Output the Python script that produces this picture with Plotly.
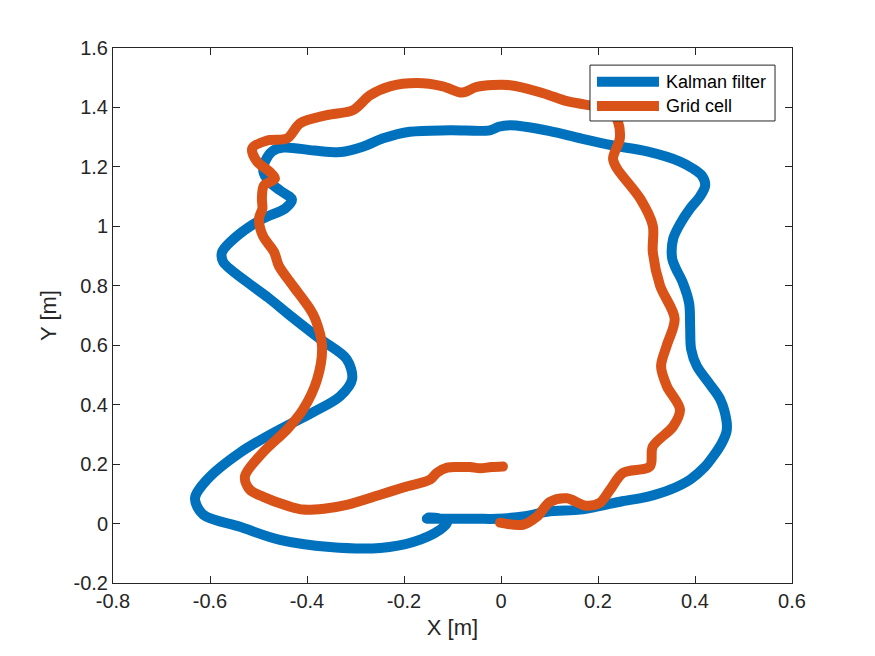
import plotly.graph_objects as go

# Kalman filter trajectory (x, y in metres)
kalman_x = [-0.153, -0.10, -0.05, -0.008, 0.05, 0.095, 0.163, 0.198, 0.25, 0.301, 0.35, 0.39,
            0.42, 0.437, 0.455, 0.465, 0.465, 0.452, 0.43, 0.404, 0.392, 0.390, 0.388,
            0.375, 0.36, 0.353, 0.355, 0.37, 0.39, 0.41, 0.421, 0.414, 0.395, 0.369, 0.301,
            0.231, 0.166, 0.101, 0.05, 0.019, -0.005, -0.023, -0.105, -0.188, -0.243, -0.285,
            -0.33, -0.385, -0.449, -0.472, -0.486, -0.490, -0.478, -0.455, -0.431, -0.445,
            -0.491, -0.544, -0.575, -0.573, -0.524, -0.48, -0.435, -0.373, -0.318, -0.307,
            -0.332, -0.388, -0.456, -0.538, -0.606, -0.631, -0.614, -0.538, -0.456, -0.353,
            -0.249, -0.181, -0.126, -0.111, -0.13, -0.15]
kalman_y = [0.016, 0.016, 0.016, 0.016, 0.025, 0.04, 0.047, 0.057, 0.075, 0.09, 0.115, 0.148,
            0.19, 0.225, 0.27, 0.31, 0.345, 0.418, 0.47, 0.529, 0.587, 0.66, 0.74,
            0.81, 0.86, 0.891, 0.958, 1.01, 1.06, 1.10, 1.137, 1.171, 1.195, 1.218, 1.252,
            1.272, 1.295, 1.32, 1.335, 1.340, 1.335, 1.323, 1.323, 1.318, 1.296, 1.268,
            1.250, 1.255, 1.265, 1.252, 1.22, 1.185, 1.15, 1.12, 1.090, 1.060,
            1.026, 0.968, 0.914, 0.881, 0.813, 0.76, 0.70, 0.621, 0.553, 0.486,
            0.428, 0.374, 0.317, 0.239, 0.148, 0.085, 0.03, -0.011, -0.055, -0.079,
            -0.082, -0.062, -0.021, 0.003, 0.018, 0.02]

# Grid cell trajectory (x, y in metres)
grid_x = [0.004, -0.02, -0.043, -0.064, -0.09, -0.111, -0.132, -0.146, -0.2, -0.249, -0.318,
          -0.365, -0.408, -0.435, -0.49, -0.518, -0.528, -0.491, -0.441, -0.408, -0.379,
          -0.369, -0.383, -0.394, -0.429, -0.458, -0.468, -0.491, -0.499, -0.492, -0.493,
          -0.489, -0.466, -0.478, -0.503, -0.513, -0.482, -0.441, -0.414, -0.359, -0.305,
          -0.270, -0.229, -0.173, -0.120, -0.080, -0.05, 0.019, 0.087, 0.136, 0.184, 0.225,
          0.241, 0.245, 0.231, 0.239, 0.287, 0.313, 0.313, 0.328, 0.358,
          0.342, 0.330, 0.342, 0.369, 0.355, 0.313, 0.307, 0.252, 0.225, 0.204, 0.175, 0.136,
          0.101, 0.074, 0.045, -0.002]
grid_y = [0.192, 0.19, 0.186, 0.190, 0.19, 0.188, 0.171, 0.148, 0.122, 0.097, 0.063,
          0.05, 0.047, 0.057, 0.09, 0.114, 0.158, 0.239, 0.317, 0.384, 0.486,
          0.597, 0.688, 0.722, 0.80, 0.867, 0.914, 0.968, 1.026, 1.06, 1.093,
          1.137, 1.161, 1.185, 1.218, 1.262, 1.289, 1.296, 1.347, 1.374, 1.391,
          1.441, 1.471, 1.482, 1.471, 1.450, 1.469, 1.475, 1.448, 1.421, 1.407, 1.397,
          1.353, 1.296, 1.228, 1.195, 1.093, 1.002, 0.914, 0.80, 0.690,
          0.60, 0.529, 0.462, 0.384, 0.327, 0.259, 0.192, 0.171, 0.114, 0.070, 0.060, 0.085,
          0.073, 0.023, -0.004, 0.003]

x_ticks = [-0.8, -0.6, -0.4, -0.2, 0, 0.2, 0.4, 0.6]
y_ticks = [-0.2, 0, 0.2, 0.4, 0.6, 0.8, 1, 1.2, 1.4, 1.6]
series_names = ["Kalman filter", "Grid cell"]

BLUE = "#0072BD"
ORANGE = "#D95319"
AX = "#262626"
FONT = "Liberation Sans, Arial, sans-serif"

fig = go.Figure()
fig.add_trace(go.Scatter(x=kalman_x, y=kalman_y, mode="lines", name=series_names[0],
                         showlegend=False,
                         line=dict(color=BLUE, width=10, shape="spline", smoothing=0.9)))
fig.add_trace(go.Scatter(x=grid_x, y=grid_y, mode="lines", name=series_names[1],
                         showlegend=False,
                         line=dict(color=ORANGE, width=10, shape="spline", smoothing=0.9)))

axis_common = dict(showgrid=False, zeroline=False, showline=True, linecolor=AX, linewidth=1,
                   mirror="allticks", ticks="inside", ticklen=7, tickcolor=AX,
                   tickfont=dict(family=FONT, size=20, color=AX))

fig.update_xaxes(range=[-0.8, 0.6], tickvals=x_ticks,
                 ticktext=[("%g" % v) for v in x_ticks],
                 title=dict(text="X [m]", font=dict(family=FONT, size=22, color=AX), standoff=8),
                 **axis_common)
fig.update_yaxes(range=[-0.2, 1.6], tickvals=y_ticks,
                 ticktext=[("%g" % v) for v in y_ticks],
                 title=dict(text="Y [m]", font=dict(family=FONT, size=22, color=AX), standoff=10),
                 **axis_common)

# Legend box drawn in paper coordinates (MATLAB-style long line samples)
shapes = [dict(type="rect", xref="paper", yref="paper", x0=0.7025, x1=0.975,
               y0=0.8636, y1=0.968, line=dict(color=AX, width=1), fillcolor="white",
               layer="above")]
annotations = []
for name, col, yy in [(series_names[0], BLUE, 0.937), (series_names[1], ORANGE, 0.8916)]:
    shapes.append(dict(type="line", xref="paper", yref="paper", x0=0.7128, x1=0.8041,
                       y0=yy, y1=yy, line=dict(color=col, width=10), layer="above"))
    annotations.append(dict(xref="paper", yref="paper", x=0.812, y=yy, text=name,
                            showarrow=False, xanchor="left", yanchor="middle",
                            font=dict(family=FONT, size=18, color="black")))

fig.update_layout(
    width=875, height=656,
    margin=dict(l=105, r=91, t=40, b=81),
    plot_bgcolor="white", paper_bgcolor="white",
    font=dict(family=FONT, color=AX),
    shapes=shapes, annotations=annotations,
)

# round line joins/caps like MATLAB's thick lines
post = """
var st = document.createElement('style');
st.innerHTML = '.js-line { stroke-linejoin: round !important; stroke-linecap: round !important; }';
document.head.appendChild(st);
"""
fig.write_html("out.html", post_script=post)
